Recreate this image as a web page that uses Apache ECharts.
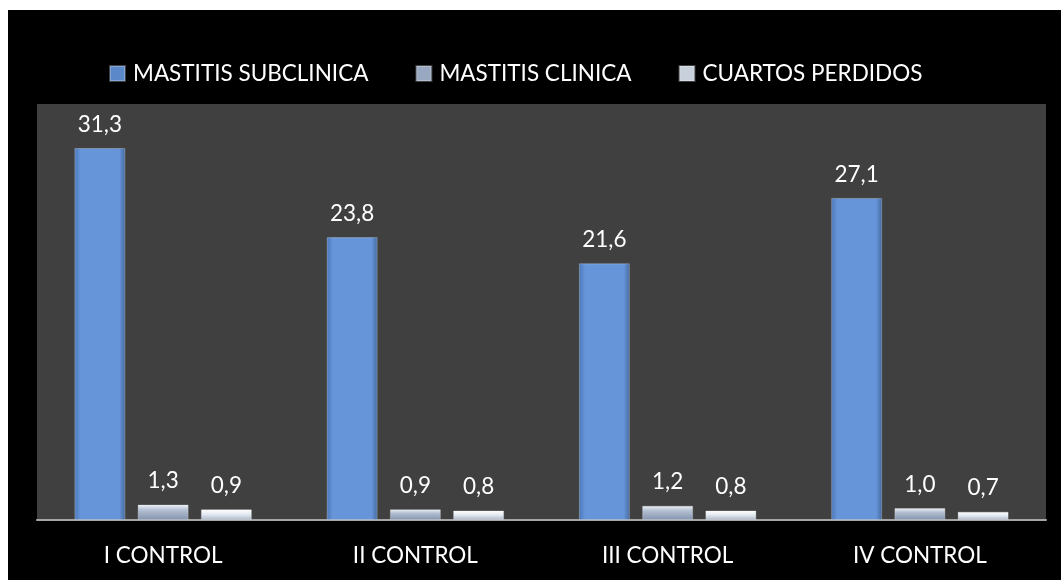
<!DOCTYPE html>
<html>
<head>
<meta charset="utf-8">
<script src="https://cdn.jsdelivr.net/npm/echarts@6/dist/echarts.min.js"></script>
<style>
  html, body { margin: 0; padding: 0; background: #ffffff; }
  #chart { position: absolute; left: 8px; top: 10px; width: 1053px; height: 570px; background: #000000; }
</style>
</head>
<body>
<div id="chart"></div>
<script>
// Mastitis por control lechero (%)
const categories = ['I CONTROL', 'II CONTROL', 'III CONTROL', 'IV CONTROL'];
const seriesNames = ['MASTITIS SUBCLINICA', 'MASTITIS CLINICA', 'CUARTOS PERDIDOS'];
const subclinica = [31.3, 23.8, 21.6, 27.1];
const clinica = [1.3, 0.9, 1.2, 1.0];
const perdidos = [0.9, 0.8, 0.8, 0.7];

const FONT = 'Lato, "Open Sans", sans-serif';
const FS = 22.5;

// Bevel-like fills for each series
const fills = [
  new echarts.graphic.LinearGradient(0, 0, 1, 0, [
    { offset: 0, color: '#4a77b8' },
    { offset: 0.12, color: '#6795da' },
    { offset: 0.88, color: '#6795da' },
    { offset: 1, color: '#44699e' }
  ]),
  new echarts.graphic.LinearGradient(0, 0, 0, 1, [
    { offset: 0, color: '#eef2f8' },
    { offset: 0.35, color: '#b4c0d2' },
    { offset: 1, color: '#8494ae' }
  ]),
  new echarts.graphic.LinearGradient(0, 0, 0, 1, [
    { offset: 0, color: '#ffffff' },
    { offset: 0.45, color: '#e6ebf2' },
    { offset: 1, color: '#aab6c8' }
  ])
];
const legendColors = ['#5b88c8', '#98a8c0', '#c8d0dc'];

function makeSeries(name, data, idx) {
  return {
    name: name,
    type: 'bar',
    data: data,
    barWidth: 51,
    barGap: '24%',
    itemStyle: { color: fills[idx], borderColor: 'rgba(255,255,255,0.25)', borderWidth: 1 },
    label: {
      show: true,
      position: 'top',
      distance: 12,
      color: '#ffffff',
      fontFamily: FONT,
      fontSize: FS,
      formatter: p => p.value.toFixed(1).replace('.', ',')
    }
  };
}

const chart = echarts.init(document.getElementById('chart'));
chart.setOption({
  backgroundColor: '#000000',
  animation: false,
  legend: {
    left: 96,
    top: 47,
    itemWidth: 15,
    itemHeight: 15,
    itemGap: 47,
    icon: 'rect',
    textStyle: { color: '#ffffff', fontFamily: FONT, fontSize: FS, padding: [0, 0, 0, 3] },
    data: seriesNames.map((n, i) => ({ name: n, itemStyle: { color: legendColors[i] } }))
  },
  grid: {
    left: 29,
    right: 15,
    top: 94,
    bottom: 60,
    show: true,
    backgroundColor: '#404040',
    borderWidth: 0
  },
  xAxis: {
    type: 'category',
    data: categories,
    axisLine: { lineStyle: { color: '#a6a6a6', width: 2 } },
    axisTick: { show: false },
    axisLabel: { color: '#ffffff', fontFamily: FONT, fontSize: FS, margin: 24 }
  },
  yAxis: {
    type: 'value',
    min: 0,
    max: 35,
    show: false,
    splitLine: { show: false }
  },
  series: [
    makeSeries(seriesNames[0], subclinica, 0),
    makeSeries(seriesNames[1], clinica, 1),
    makeSeries(seriesNames[2], perdidos, 2)
  ]
});
</script>
</body>
</html>
